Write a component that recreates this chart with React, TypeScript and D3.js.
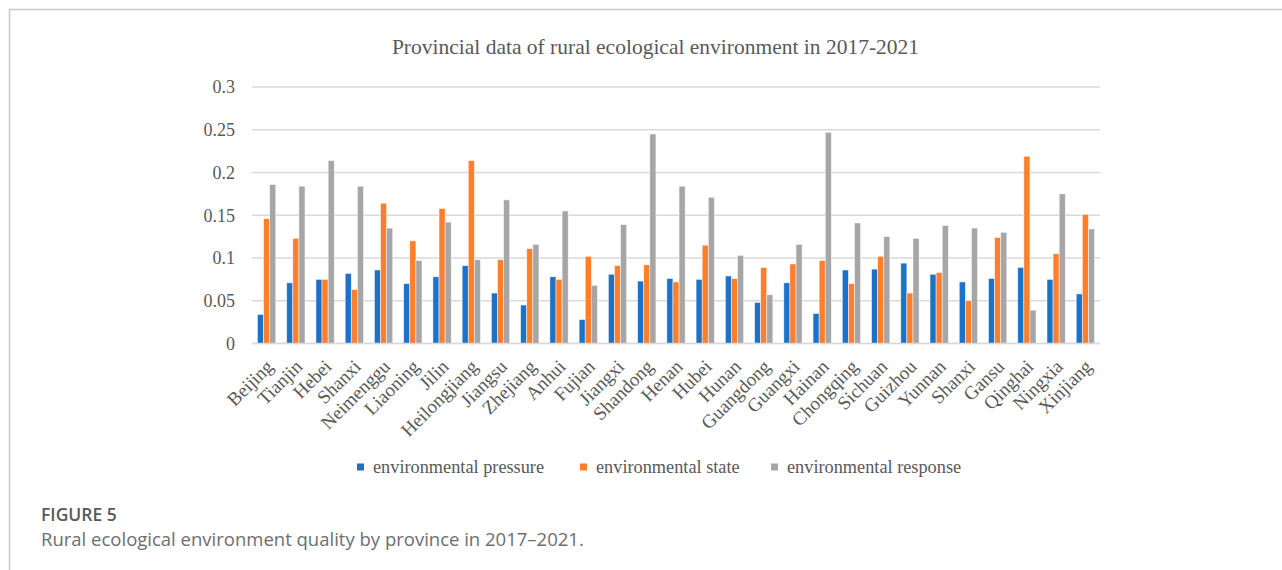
import React from "react";
import * as d3 from "d3";

// Provinces along the x axis
const provinces: string[] = [
  "Beijing", "Tianjin", "Hebei", "Shanxi", "Neimenggu", "Liaoning", "Jilin",
  "Heilongjiang", "Jiangsu", "Zhejiang", "Anhui", "Fujian", "Jiangxi", "Shandong",
  "Henan", "Hubei", "Hunan", "Guangdong", "Guangxi", "Hainan", "Chongqing",
  "Sichuan", "Guizhou", "Yunnan", "Shanxi", "Gansu", "Qinghai", "Ningxia", "Xinjiang",
];

// Series values per province
const pressure: number[] = [
  0.034, 0.071, 0.075, 0.082, 0.086, 0.070, 0.078, 0.091, 0.059, 0.045, 0.078, 0.028,
  0.081, 0.073, 0.076, 0.075, 0.079, 0.048, 0.071, 0.035, 0.086, 0.087, 0.094, 0.081,
  0.072, 0.076, 0.089, 0.075, 0.058,
];
const state: number[] = [
  0.146, 0.123, 0.075, 0.063, 0.164, 0.120, 0.158, 0.214, 0.098, 0.111, 0.075, 0.102,
  0.091, 0.092, 0.072, 0.115, 0.076, 0.089, 0.093, 0.097, 0.070, 0.102, 0.059, 0.083,
  0.050, 0.124, 0.219, 0.105, 0.151,
];
const response: number[] = [
  0.186, 0.184, 0.214, 0.184, 0.135, 0.097, 0.142, 0.098, 0.168, 0.116, 0.155, 0.068,
  0.139, 0.245, 0.184, 0.171, 0.103, 0.057, 0.116, 0.247, 0.141, 0.125, 0.123, 0.138,
  0.135, 0.130, 0.039, 0.175, 0.134,
];

const seriesNames: string[] = ["environmental pressure", "environmental state", "environmental response"];
const seriesColors: string[] = ["#1c72c8", "#fd7e2b", "#a6a6a6"];
const yTicks: number[] = [0, 0.05, 0.1, 0.15, 0.2, 0.25, 0.3];

const title = "Provincial data of rural ecological environment in 2017-2021";
const figureLabel = "FIGURE 5";
const caption = "Rural ecological environment quality by province in 2017\u20132021.";

const W = 1282;
const H = 570;
const plot = { left: 252, right: 1100, top: 87, bottom: 343.5 };

const serif = "'Liberation Serif', 'Times New Roman', serif";
const sans = "'Open Sans', Lato, sans-serif";

export default function App() {
  const seriesData = [pressure, state, response];

  const x = d3
    .scaleBand<number>()
    .domain(d3.range(provinces.length))
    .range([plot.left, plot.right])
    .paddingInner(0.374)
    .paddingOuter(0.187);

  const xs = d3
    .scaleBand<number>()
    .domain(d3.range(seriesData.length))
    .range([0, x.bandwidth()]);

  const y = d3.scaleLinear().domain([0, 0.3]).range([plot.bottom, plot.top]);

  const fmt = (v: number) => String(+v.toFixed(2));

  const legendX = [357, 580, 771];

  return (
    <svg
      width={W}
      height={H}
      viewBox={`0 0 ${W} ${H}`}
      style={{ position: "absolute", left: 0, top: 0, background: "#fff" }}
    >
      {/* figure frame */}
      <path d={`M9.5 ${H + 2} V9.5 H${W + 2}`} fill="none" stroke="#c8c8c8" strokeWidth={1.5} />

      <text
        x={655.5}
        y={54}
        textAnchor="middle"
        fontFamily={serif}
        fontSize={21.5}
        fill="#595959"
      >
        {title}
      </text>

      {/* gridlines */}
      {yTicks.map((t) => (
        <line
          key={`g${t}`}
          x1={plot.left}
          x2={plot.right}
          y1={y(t)}
          y2={y(t)}
          stroke="#d9d9d9"
          strokeWidth={1.3}
        />
      ))}

      {/* y tick labels */}
      {yTicks.map((t) => (
        <text
          key={`t${t}`}
          x={235}
          y={y(t)}
          dy="0.35em"
          textAnchor="end"
          fontFamily={serif}
          fontSize={18}
          fill="#595959"
        >
          {fmt(t)}
        </text>
      ))}

      {/* bars */}
      {provinces.map((p, i) => (
        <g key={`b${i}`} transform={`translate(${x(i)},0)`}>
          {seriesData.map((vals, s) => (
            <rect
              key={s}
              x={xs(s)}
              y={y(vals[i])}
              width={xs.bandwidth()}
              height={y(0) - y(vals[i])}
              fill={seriesColors[s]}
              stroke="#ffffff"
              strokeOpacity={0.7}
              strokeWidth={0.7}
            />
          ))}
        </g>
      ))}

      {/* baseline */}
      <line x1={plot.left} x2={plot.right} y1={y(0)} y2={y(0)} stroke="#d9d9d9" strokeWidth={1.5} />

      {/* x category labels */}
      {provinces.map((p, i) => (
        <text
          key={`x${i}`}
          transform={`translate(${(x(i) as number) + x.bandwidth() / 2 + 3},363) rotate(-45)`}
          textAnchor="end"
          dy="0.35em"
          fontFamily={serif}
          fontSize={19}
          fill="#595959"
        >
          {p}
        </text>
      ))}

      {/* legend */}
      {seriesNames.map((n, s) => (
        <g key={`l${s}`} transform={`translate(${legendX[s]},467)`}>
          <rect x={0} y={-3.5} width={7} height={7} fill={seriesColors[s]} />
          <text x={16} y={0} dy="0.35em" fontFamily={serif} fontSize={18.3} fill="#595959">
            {n}
          </text>
        </g>
      ))}

      {/* caption */}
      <text x={41} y={521} fontFamily={sans} fontWeight={600} fontSize={17.5} fill="#58595b">
        {figureLabel}
      </text>
      <text x={41} y={546} fontFamily={sans} fontSize={18.5} fill="#6d6e71">
        {caption}
      </text>
    </svg>
  );
}
